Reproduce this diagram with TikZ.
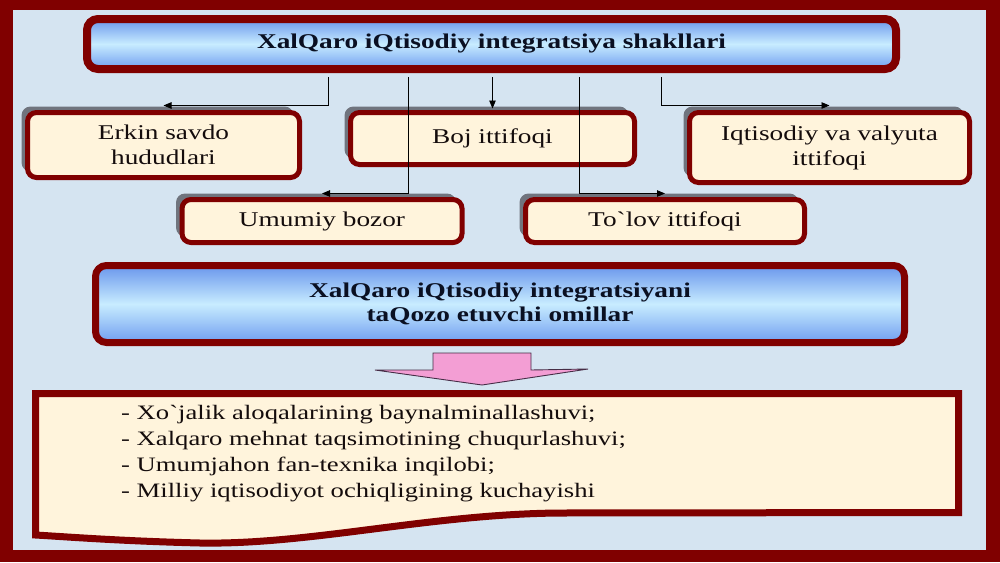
\documentclass[tikz,border=0pt]{standalone}
\usepackage{fontspec}
\setmainfont{Liberation Serif}[FakeStretch=1.3, Ligatures=TeXOff]
\usetikzlibrary{arrows.meta,shadows}
\definecolor{frame}{RGB}{128,0,0}
\definecolor{bg}{RGB}{213,228,241}
\definecolor{cream}{RGB}{255,244,220}
\definecolor{shadowgray}{RGB}{112,116,126}
\definecolor{blueA}{RGB}{105,150,236}
\definecolor{blueB}{RGB}{200,236,255}
\definecolor{blueC}{RGB}{112,158,240}
\definecolor{pinkfill}{RGB}{243,158,212}
\definecolor{pinkline}{RGB}{70,45,70}
\definecolor{titleink}{RGB}{10,16,34}
\definecolor{boxink}{RGB}{20,12,12}
\tikzset{
  formbox/.style={draw=frame, line width=5pt, fill=cream, rounded corners=9pt,
    align=center, font=\fontsize{21}{25}\selectfont, text=boxink, inner sep=0pt,
    drop shadow={shadow xshift=-6pt, shadow yshift=6pt, fill=shadowgray, opacity=1}},
  headbox/.style={draw=frame, rounded corners=11pt, top color=blueA, bottom color=blueC,
    middle color=blueB, align=center, font=\bfseries\fontsize{21}{24}\selectfont,
    text=titleink, inner sep=0pt},
  link/.style={draw=black, line width=0.9pt, shorten <=4pt,
    -{Triangle[length=8pt,width=6.5pt]}},
  pinkarrow/.style={fill=pinkfill, draw=pinkline, line width=0.9pt},
  docbox/.style={draw=frame, line width=7pt, fill=cream, line join=miter},
  listtext/.style={align=left, inner sep=0pt, text=boxink,
    font=\fontsize{20.5}{26}\selectfont}
}
\begin{document}
\begin{tikzpicture}[x=1pt,y=-1pt]
\useasboundingbox (0,0) rectangle (1000,562);
% frame and background
\fill[frame] (0,0) rectangle (1000,562);
\fill[bg] (13,10) rectangle (986,550);

% top heading
\node[headbox, line width=8pt, minimum width=809pt, minimum height=50pt] (title) at (491.5,44)
  {XalQaro iQtisodiy integratsiya shakllari};

% forms
\node[formbox, minimum width=272pt, minimum height=65pt] (erkin) at (163.5,145) {Erkin savdo\\hududlari};
\node[formbox, minimum width=284pt, minimum height=52pt] (boj) at (492.5,138.5) {Boj ittifoqi};
\node[formbox, minimum width=280pt, minimum height=70pt] (iqt) at (829.5,147.5) {Iqtisodiy va valyuta\\ittifoqi};
\node[formbox, minimum width=280pt, minimum height=43pt] (umumiy) at (322,221) {Umumiy bozor};
\node[formbox, minimum width=279pt, minimum height=43pt] (tolov) at (665,221) {To`lov ittifoqi};

% connectors
\coordinate (x1) at (328,0);
\coordinate (x2) at (408,0);
\coordinate (x4) at (579,0);
\coordinate (x5) at (661,0);
\draw[link] (title.south -| x1) |- ([yshift=4.5pt]erkin.north);
\draw[link] (title.south -| x2) |- ([yshift=3.5pt]umumiy.north);
\draw[link] (title.south -| boj.north) -- ([yshift=1.5pt]boj.north);
\draw[link] (title.south -| x4) |- ([yshift=3.5pt]tolov.north);
\draw[link] (title.south -| x5) |- ([yshift=4.5pt]iqt.north);

% second heading
\node[headbox, line width=7pt, minimum width=809pt, minimum height=77pt] (factors) at (500,304)
  {XalQaro iQtisodiy integratsiyani\\taQozo etuvchi omillar};

% pink block arrow
\draw[pinkarrow] (433,353) -- (531,353) -- (531,370) -- (588,369) -- (482,385)
  -- (375,370) -- (433,370) -- cycle;

% document box with wavy bottom
\draw[docbox] (35.5,393.5) -- (958.5,393.5) -- (958.5,512.5) -- (560,513)
  .. controls (430,514) and (310,545) .. (200,543)
  .. controls (120,541) and (70,537) .. (35.5,535) -- cycle;

\node[listtext, anchor=north west] (list) at (121,405)
  {- Xo`jalik aloqalarining baynalminallashuvi;\\
   - Xalqaro mehnat taqsimotining chuqurlashuvi;\\
   - Umumjahon fan-texnika inqilobi;\\
   - Milliy iqtisodiyot ochiqligining kuchayishi};
\end{tikzpicture}
\end{document}
